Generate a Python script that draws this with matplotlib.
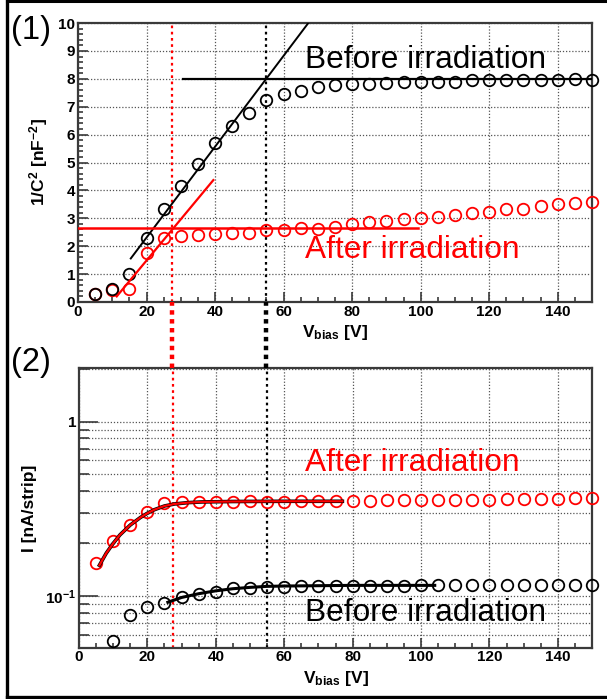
import matplotlib
matplotlib.use("Agg")
import matplotlib.pyplot as plt
from matplotlib.lines import Line2D
from matplotlib.ticker import AutoMinorLocator, MultipleLocator, FixedLocator, FixedFormatter, LogLocator, NullFormatter

plt.rcParams["font.family"] = ["Liberation Sans", "DejaVu Sans"]
plt.rcParams["mathtext.fontset"] = "custom"
plt.rcParams["mathtext.rm"] = "Liberation Sans:bold"
plt.rcParams["mathtext.bf"] = "Liberation Sans:bold"
plt.rcParams["mathtext.it"] = "Liberation Sans:bold"

# ---- data ----
v_bias = [5, 10, 15, 20, 25, 30, 35, 40, 45, 50, 55, 60, 65, 70, 75, 80, 85, 90,
          95, 100, 105, 110, 115, 120, 125, 130, 135, 140, 145, 150]

# (1) 1/C^2 [nF^-2]
invc2_before = [0.30, 0.48, 1.02, 2.31, 3.32, 4.17, 4.95, 5.69, 6.31, 6.79, 7.25,
                7.45, 7.57, 7.70, 7.78, 7.82, 7.82, 7.84, 7.90, 7.90, 7.90, 7.90,
                7.96, 7.96, 7.96, 7.96, 7.96, 7.96, 7.99, 7.96]
invc2_after = [0.27, 0.42, 0.48, 1.77, 2.28, 2.36, 2.40, 2.43, 2.48, 2.49, 2.57,
               2.57, 2.67, 2.63, 2.69, 2.81, 2.87, 2.91, 2.99, 3.02, 3.05, 3.11,
               3.20, 3.23, 3.32, 3.35, 3.45, 3.50, 3.56, 3.59]

# straight-line fits on the 1/C^2 curves
fit_before_rise_v = [15.4, 67.2]
fit_before_rise_y = [1.56, 10.0]
fit_before_flat_v = [30.5, 150.0]
fit_before_flat_y = [8.0, 8.0]
fit_after_rise_v = [11.3, 39.5]
fit_after_rise_y = [0.20, 4.37]
fit_after_flat_v = [0.0, 99.3]
fit_after_flat_y = [2.65, 2.65]

# depletion voltages
vdep_after = 27.5
vdep_before = 55.0

# (2) leakage current [nA/strip]
i_before_v = v_bias[1:]
i_before = [0.0552, 0.0778, 0.0869, 0.0916, 0.0991, 0.1026, 0.1060, 0.1106, 0.1106,
            0.1130, 0.1130, 0.1135, 0.1140, 0.1145, 0.1146, 0.1146, 0.1146, 0.1146,
            0.1150, 0.1150, 0.1150, 0.1155, 0.1160, 0.1160, 0.1160, 0.1160, 0.1160,
            0.1160, 0.1160]
i_after = [0.154, 0.207, 0.255, 0.301, 0.340, 0.346, 0.347, 0.346, 0.347, 0.350,
           0.347, 0.348, 0.349, 0.350, 0.350, 0.352, 0.352, 0.353, 0.354, 0.355,
           0.355, 0.356, 0.357, 0.357, 0.358, 0.360, 0.361, 0.362, 0.364, 0.365]

# saturation fits on the current curves
ifit_after_v = [6, 8, 10, 12, 15, 18, 20, 22, 25, 28, 32, 36, 45, 60, 77]
ifit_after = [0.150, 0.176, 0.200, 0.224, 0.255, 0.282, 0.298, 0.312, 0.328, 0.337,
              0.343, 0.346, 0.348, 0.349, 0.349]
ifit_before_v = [26, 30, 35, 40, 45, 50, 55, 60, 70, 80, 104]
ifit_before = [0.092, 0.098, 0.103, 0.107, 0.110, 0.112, 0.1135, 0.114, 0.1145,
               0.115, 0.115]

label_before = "Before irradiation"
label_after = "After irradiation"
RED = "#ff0000"
SPINE = "#3a3a3a"
GRID = "#555555"
BIG = 22.8
MS = 8.3

fig = plt.figure(figsize=(6.07, 6.99), dpi=100)
ax1 = fig.add_axes([0.1285, 0.568, 0.8468, 0.399])
ax2 = fig.add_axes([0.1300, 0.0734, 0.8455, 0.3997])


def style_axes(ax):
    for s in ax.spines.values():
        s.set_color(SPINE)
        s.set_linewidth(1.6)
    ax.tick_params(which="both", direction="in", colors=SPINE, top=False, right=False,
                   labelsize=11, pad=2, width=1.2)
    ax.tick_params(which="major", length=7)
    ax.tick_params(which="minor", length=3.5)
    ax.set_xlim(0, 150)
    ax.xaxis.set_major_locator(MultipleLocator(20))
    ax.xaxis.set_minor_locator(MultipleLocator(5))
    ax.grid(True, which="major", axis="x", linestyle=(0, (1, 1.5)), color=GRID, lw=0.9)


def bold_labels(ax):
    for lab in ax.get_xticklabels() + ax.get_yticklabels():
        lab.set_fontweight("bold")
        lab.set_color("black")


# ---- panel (1) ----
style_axes(ax1)
ax1.set_ylim(0, 10)
ax1.yaxis.set_major_locator(MultipleLocator(1))
ax1.yaxis.set_minor_locator(AutoMinorLocator(5))
ax1.grid(True, which="major", axis="y", linestyle=(0, (1, 1.5)), color=GRID, lw=0.9)
ax1.axvline(vdep_after, color=RED, ls=(0, (1.2, 1.6)), lw=1.6)
ax1.axvline(vdep_before, color="black", ls=(0, (1.2, 1.6)), lw=1.6)

ax1.plot(v_bias, invc2_after, ls="none", marker="o", ms=MS, mfc="none", mec=RED,
         mew=1.3, clip_on=False, zorder=4)
ax1.plot(v_bias, invc2_before, ls="none", marker="o", ms=MS, mfc="none", mec="black",
         mew=1.3, clip_on=False, zorder=4)
ax1.plot(fit_before_rise_v, fit_before_rise_y, color="black", lw=1.4, zorder=5)
ax1.plot(fit_before_flat_v, fit_before_flat_y, color="black", lw=1.6, zorder=5)
ax1.plot(fit_after_rise_v, fit_after_rise_y, color=RED, lw=1.6, zorder=5)
ax1.plot(fit_after_flat_v, fit_after_flat_y, color=RED, lw=1.8, zorder=5)

ax1.text(66.2, 8.68, label_before, fontsize=BIG, color="black", ha="left", va="center")
ax1.text(66.2, 1.86, label_after, fontsize=BIG, color=RED, ha="left", va="center")
ax1.set_ylabel(r"$\mathbf{1/C^{2}\ [nF^{-2}]}$", fontsize=12.5, labelpad=6)
ax1.set_xlabel(r"$\mathbf{V_{bias}\ [V]}$", fontsize=12.5, labelpad=3)
bold_labels(ax1)

# ---- panel (2) ----
style_axes(ax2)
ax2.set_yscale("log")
ax2.set_ylim(0.0505, 2.02)
ax2.yaxis.set_major_locator(FixedLocator([0.1, 1.0]))
ax2.yaxis.set_major_formatter(FixedFormatter([r"$\mathbf{10^{-1}}$", "1"]))
ax2.yaxis.set_minor_locator(LogLocator(base=10, subs=range(2, 10), numticks=20))
ax2.yaxis.set_minor_formatter(NullFormatter())
ax2.tick_params(axis="y", which="major", length=14)
ax2.tick_params(axis="y", which="minor", length=7)
ax2.grid(True, which="both", axis="y", linestyle=(0, (1, 1.5)), color=GRID, lw=0.9)
ax2.axvline(vdep_after, color=RED, ls=(0, (1.2, 1.6)), lw=1.6)
ax2.axvline(vdep_before, color="black", ls=(0, (1.2, 1.6)), lw=1.6)

ax2.plot(v_bias, i_after, ls="none", marker="o", ms=MS, mfc="none", mec=RED,
         mew=1.3, clip_on=False, zorder=4)
ax2.plot(i_before_v, i_before, ls="none", marker="o", ms=MS, mfc="none", mec="black",
         mew=1.3, clip_on=False, zorder=4)
ax2.plot(ifit_after_v, ifit_after, color="black", lw=2.6, zorder=5)
ax2.plot(ifit_after_v, ifit_after, color=RED, lw=1.6, zorder=6)
ax2.plot(ifit_before_v, ifit_before, color="black", lw=2.2, zorder=5)

ax2.text(66.2, 0.58, label_after, fontsize=BIG, color=RED, ha="left", va="center")
ax2.text(66.2, 0.0799, label_before, fontsize=BIG, color="black", ha="left", va="center")
ax2.set_ylabel("I [nA/strip]", fontsize=12.5, fontweight="bold", labelpad=6)
ax2.set_xlabel(r"$\mathbf{V_{bias}\ [V]}$", fontsize=12.5, labelpad=3)
bold_labels(ax2)

# panel tags
fig.text(11 / 607, 1 - 30 / 699, "(1)", fontsize=23.5, ha="left", va="center")
fig.text(11 / 607, 1 - 362 / 699, "(2)", fontsize=23.5, ha="left", va="center")

# depletion markers bridging the two panels
y_top = ax1.get_position().y0
y_bot = ax2.get_position().y1
for v, c in ((vdep_after, RED), (vdep_before, "black")):
    xf = ax1.get_position().x0 + ax1.get_position().width * v / 150.0
    fig.add_artist(Line2D([xf, xf], [y_bot, y_top], transform=fig.transFigure,
                          color=c, lw=3.2, ls=(0, (1, 1)), dash_capstyle="butt"))

# outer frame (top, left, bottom)
fig.add_artist(Line2D([6.5 / 607, 1.0], [1 - 1.3 / 699, 1 - 1.3 / 699],
                      transform=fig.transFigure, color="black", lw=2.2))
fig.add_artist(Line2D([6.5 / 607, 6.5 / 607], [1 - 1.3 / 699, 2.0 / 699],
                      transform=fig.transFigure, color="black", lw=2.4))
fig.add_artist(Line2D([6.5 / 607, 1.0], [2.0 / 699, 2.0 / 699],
                      transform=fig.transFigure, color="black", lw=2.4))

fig.savefig("out.png", dpi=100)
